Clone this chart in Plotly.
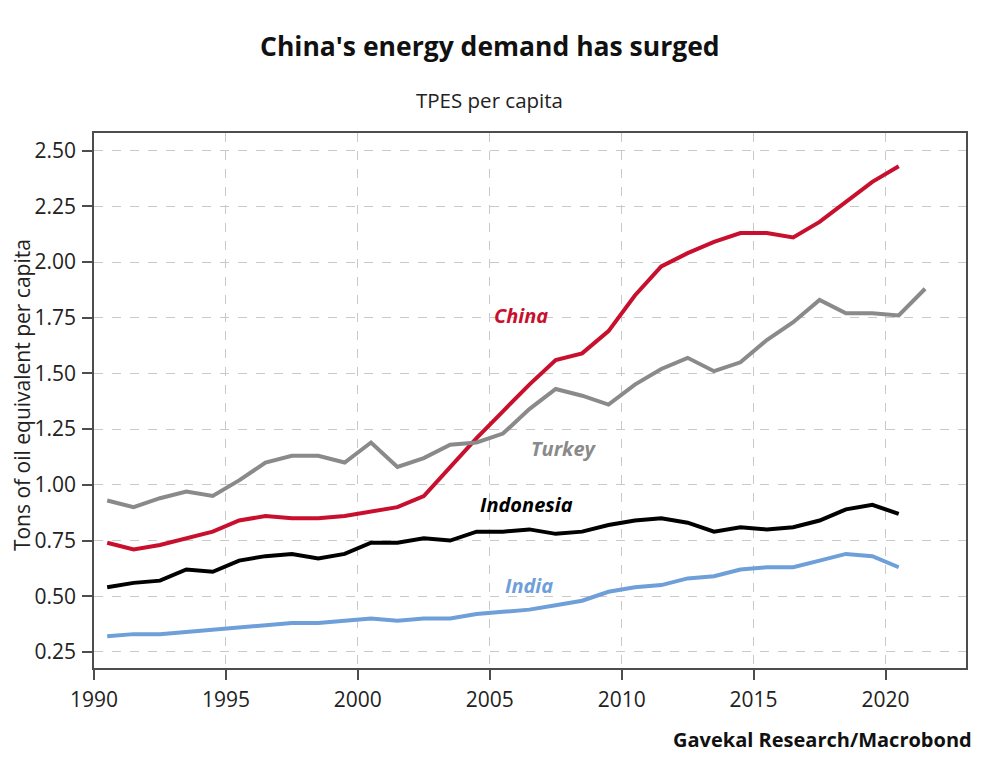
import plotly.graph_objects as go

# TPES per capita, tons of oil equivalent (values plotted at mid-year)
years = [y + 0.5 for y in range(1990, 2021)]
years_turkey = [y + 0.5 for y in range(1990, 2022)]

china = [0.74, 0.71, 0.73, 0.76, 0.79, 0.84, 0.86, 0.85, 0.85, 0.86,
         0.88, 0.90, 0.95, 1.08, 1.21, 1.33, 1.45, 1.56, 1.59, 1.69,
         1.85, 1.98, 2.04, 2.09, 2.13, 2.13, 2.11, 2.18, 2.27, 2.36, 2.43]
turkey = [0.93, 0.90, 0.94, 0.97, 0.95, 1.02, 1.10, 1.13, 1.13, 1.10,
          1.19, 1.08, 1.12, 1.18, 1.19, 1.23, 1.34, 1.43, 1.40, 1.36,
          1.45, 1.52, 1.57, 1.51, 1.55, 1.65, 1.73, 1.83, 1.77, 1.77,
          1.76, 1.88]
indonesia = [0.54, 0.56, 0.57, 0.62, 0.61, 0.66, 0.68, 0.69, 0.67, 0.69,
             0.74, 0.74, 0.76, 0.75, 0.79, 0.79, 0.80, 0.78, 0.79, 0.82,
             0.84, 0.85, 0.83, 0.79, 0.81, 0.80, 0.81, 0.84, 0.89, 0.91, 0.87]
india = [0.32, 0.33, 0.33, 0.34, 0.35, 0.36, 0.37, 0.38, 0.38, 0.39,
         0.40, 0.39, 0.40, 0.40, 0.42, 0.43, 0.44, 0.46, 0.48, 0.52,
         0.54, 0.55, 0.58, 0.59, 0.62, 0.63, 0.63, 0.66, 0.69, 0.68, 0.63]

x_ticks = [1990, 1995, 2000, 2005, 2010, 2015, 2020]
y_ticks = [0.25, 0.50, 0.75, 1.00, 1.25, 1.50, 1.75, 2.00, 2.25, 2.50]

FONT = "Open Sans"

series = [
    ("China", years, china, "#c8102e"),
    ("Turkey", years_turkey, turkey, "#8a8a8a"),
    ("Indonesia", years, indonesia, "#000000"),
    ("India", years, india, "#6e9fd8"),
]

fig = go.Figure()
for name, xs, ys, color in series:
    fig.add_trace(go.Scatter(
        x=xs, y=ys, mode="lines", name=name,
        line=dict(color=color, width=4),
    ))

# inline series labels
labels = [
    ("China", 2006.2, 1.76, "#c8102e"),
    ("Turkey", 2007.8, 1.165, "#8a8a8a"),
    ("Indonesia", 2006.4, 0.91, "#000000"),
    ("India", 2006.5, 0.55, "#6e9fd8"),
]
for text, lx, ly, color in labels:
    fig.add_annotation(
        x=lx, y=ly, xref="x", yref="y", showarrow=False,
        text=f"<b><i>{text}</i></b>",
        font=dict(family=FONT, size=20, color=color),
    )

fig.add_annotation(
    x=0.454, y=1.0, xref="paper", yref="paper", yanchor="bottom",
    yshift=67, showarrow=False,
    text="<b>China's energy demand has surged</b>",
    font=dict(family=FONT, size=26.5, color="#111111"),
)
fig.add_annotation(
    x=0.454, y=1.0, xref="paper", yref="paper", yanchor="bottom",
    yshift=17, showarrow=False,
    text="TPES per capita",
    font=dict(family=FONT, size=20.5, color="#222222"),
)
fig.add_annotation(
    x=1.009, y=-0.162, xref="paper", yref="paper", xanchor="right",
    showarrow=False,
    text="<b>Gavekal Research/Macrobond</b>",
    font=dict(family=FONT, size=20, color="#111111"),
)
# y-axis title as a rotated annotation so it can sit close to the page edge
fig.add_annotation(
    x=-0.0826, y=0.51, xref="paper", yref="paper", textangle=-90,
    xanchor="center", yanchor="middle", showarrow=False,
    text="Tons of oil equivalent per capita",
    font=dict(family=FONT, size=21, color="#222222"),
)

axis_common = dict(
    showline=True, linecolor="#4d4d4d", linewidth=1.5, mirror=True,
    ticks="outside", ticklen=10, tickcolor="#4d4d4d", tickwidth=1.5,
    showgrid=True, gridcolor="#c9c9c9", griddash="dash", gridwidth=1,
    zeroline=False, automargin=False,
    tickfont=dict(family=FONT, size=21, color="#222222"),
)

fig.update_xaxes(range=[1990, 2023.05], tickvals=x_ticks,
                 ticklabelstandoff=2, **axis_common)
fig.update_yaxes(
    range=[0.178, 2.579], tickvals=y_ticks, tickformat=".2f",
    ticklabelstandoff=2,
    **axis_common,
)

# page body has an 8px margin, so the figure is shrunk and shifted to match
fig.update_layout(
    width=984, height=760,
    margin=dict(l=86, r=26, t=125, b=100),
    paper_bgcolor="white", plot_bgcolor="white",
    showlegend=False,
    font=dict(family=FONT),
)

fig.write_html("out.html")
